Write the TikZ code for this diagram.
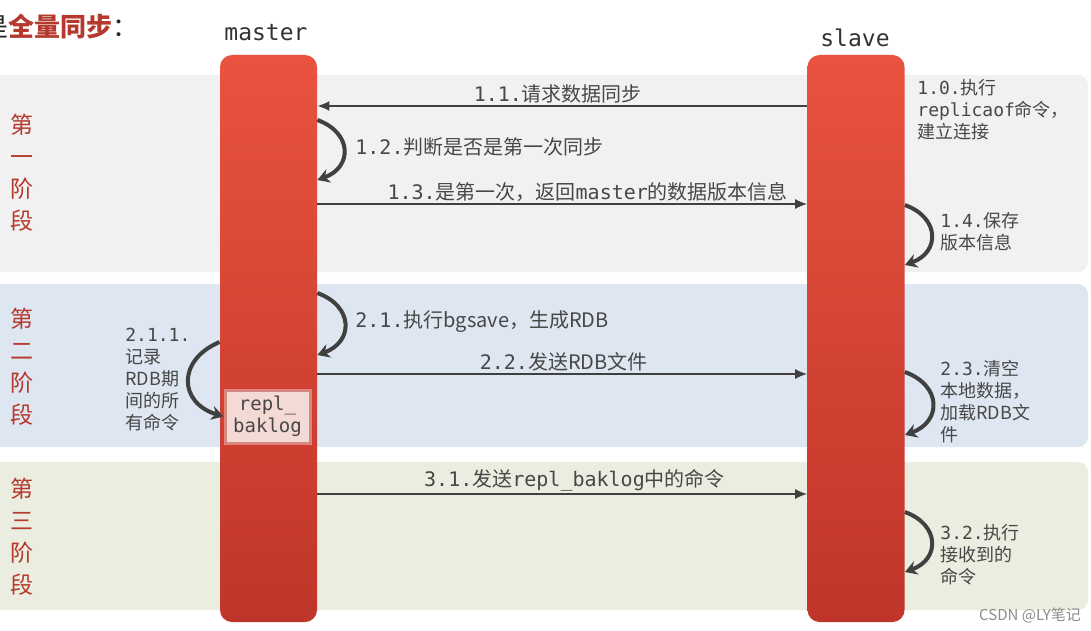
\documentclass[tikz,border=0pt]{standalone}
\usepackage{fontspec}
\setmainfont{Noto Sans CJK SC}
\setmonofont{DejaVu Sans Mono}
\usetikzlibrary{positioning,arrows.meta}
\definecolor{barTop}{HTML}{E9533F}
\definecolor{barBot}{HTML}{C0352A}
\definecolor{phaseOne}{HTML}{F1F1F1}
\definecolor{phaseTwo}{HTML}{DEE6F1}
\definecolor{phaseThree}{HTML}{EAEDDF}
\definecolor{stageRed}{HTML}{B5392D}
\definecolor{labelGray}{HTML}{474747}
\definecolor{logPink}{HTML}{F4DAD5}
\tikzstyle{bar} = [
    rectangle,
    top color = barTop,
    bottom color = barBot,
    rounded corners = 6pt,
    minimum width = 48.5pt,
    minimum height = 283.5pt
]
\tikzstyle{msg} = [
    draw = black!75,
    line width = 0.7pt,
    -{Latex[length = 6pt, width = 5pt]}
]
\tikzstyle{selfloop} = [
    draw = black!75,
    line width = 2pt,
    -{Stealth[length = 6pt, width = 7pt]}
]
\tikzstyle{lbl} = [
    text = labelGray,
    font = \fontsize{10}{12}\selectfont,
    inner sep = 1pt
]
\tikzstyle{side} = [
    text = labelGray,
    font = \fontsize{9}{11}\selectfont,
    align = left,
    anchor = north west,
    inner sep = 0pt
]
\tikzstyle{stage} = [
    text = stageRed,
    font = \fontsize{11.5}{16}\selectfont,
    align = center
]
\tikzstyle{head} = [
    text = black!80,
    font = \fontsize{11.5}{13}\ttfamily
]
\tikzstyle{baklog} = [
    rectangle,
    draw = barBot!60!white,
    line width = 1.5pt,
    fill = logPink,
    text = labelGray,
    align = center,
    inner sep = 0pt,
    font = \fontsize{9.5}{11}\ttfamily,
    minimum width = 42.5pt,
    minimum height = 26.5pt
]
\begin{document}
\begin{tikzpicture}[x = 0.5pt, y = -0.5pt]
\useasboundingbox (0,0) rectangle (1091,631);
\fill[white] (0,0) rectangle (1091,631);

% phases
\fill[phaseOne, rounded corners = 5pt] (-20,75) rectangle (1088,272);
\fill[phaseTwo, rounded corners = 5pt] (-20,284) rectangle (1088,447);
\fill[phaseThree, rounded corners = 5pt] (-20,462) rectangle (1088,610);
\node[stage] (stage1) at (22,173) {第\\一\\阶\\段};
\node[stage] (stage2) at (22,367) {第\\二\\阶\\段};
\node[stage] (stage3) at (22,537) {第\\三\\阶\\段};

% title
\node[anchor = west, inner sep = 0pt, text = black!85, font = \fontsize{13}{15}\selectfont] (title) at (-18,27) {是\textcolor{stageRed}{\textbf{全量同步}}：};

% master and slave
\node[bar] (master) at (268.5,338.5) {};
\node[bar] (slave) at (856,338.5) {};
\node[head] (masterName) at (266,33) {master};
\node[head] (slaveName) at (855,38) {slave};

% phase 1
\draw[msg] (slave.west |- 0,106) -- node[lbl, above, pos = 0.509] (l11) {\texttt{1.1.}请求数据同步} (master.east |- 0,106);
\draw[selfloop] (master.east |- 0,120) to[bend left = 70, looseness = 1.6] (master.east |- 0,180);
\node[lbl, anchor = west] (l12) at (353,147) {\texttt{1.2.}判断是否是第一次同步};
\draw[msg] (master.east |- 0,204) -- node[lbl, above, pos = 0.552] (l13) {\texttt{1.3.}是第一次，返回\texttt{master}的数据版本信息} (slave.west |- 0,204);
\node[side] (l10) at (917,79) {\texttt{1.0.}执行\\\texttt{replicaof}命令，\\建立连接};
\draw[selfloop] (slave.east |- 0,205) to[bend left = 70, looseness = 1.6] (slave.east |- 0,265);
\node[side] (l14) at (940,212) {\texttt{1.4.}保存\\版本信息};

% phase 2
\draw[selfloop] (master.east |- 0,293) to[bend left = 70, looseness = 1.6] (master.east |- 0,355);
\node[lbl, anchor = west] (l21) at (353,322) {\texttt{2.1.}执行bgsave，生成RDB};
\node[baklog] (log) at (267.5,416.5) {repl\_\\baklog};
\draw[selfloop] (master.west |- 0,342) to[bend right = 70, looseness = 1.6] (log.west);
\node[side] (l211) at (125,328) {\texttt{2.1.1.}\\记录\\RDB期\\间的所\\有命令};
\draw[msg] (master.east |- 0,374) -- node[lbl, above, pos = 0.503] (l22) {\texttt{2.2.}发送RDB文件} (slave.west |- 0,374);
\draw[selfloop] (slave.east |- 0,372) to[bend left = 70, looseness = 1.6] (slave.east |- 0,435);
\node[side] (l23) at (940,360) {\texttt{2.3.}清空\\本地数据，\\加载RDB文\\件};

% phase 3
\draw[msg] (master.east |- 0,494) -- node[lbl, above, pos = 0.525] (l31) {\texttt{3.1.}发送\texttt{repl\_baklog}中的命令} (slave.west |- 0,494);
\draw[selfloop] (slave.east |- 0,512) to[bend left = 70, looseness = 1.6] (slave.east |- 0,572);
\node[side] (l32) at (940,524) {\texttt{3.2.}执行\\接收到的\\命令};

\node[text = black!45, font = \fontsize{7.5}{9}\selectfont] (mark) at (1030,615) {CSDN @LY笔记};
\end{tikzpicture}
\end{document}
